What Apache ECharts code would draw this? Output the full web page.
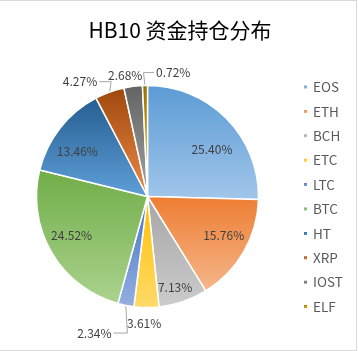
<!DOCTYPE html>
<html>
<head>
<meta charset="utf-8">
<script src="https://cdn.jsdelivr.net/npm/echarts@6/dist/echarts.min.js"></script>
<style>
  html, body { margin: 0; padding: 0; background: #fff; }
  #main {
    position: absolute; left: 0; top: 0;
    width: 356px; height: 349px;
    border-top: 1px solid #d9d9d9;
    border-right: 1px solid #d9d9d9;
    border-bottom: 1px solid #d9d9d9;
  }
</style>
</head>
<body>
<div id="main"></div>
<script>
// data
var coins = ['EOS', 'ETH', 'BCH', 'ETC', 'LTC', 'BTC', 'HT', 'XRP', 'IOST', 'ELF'];
var shares = [25.40, 15.76, 7.13, 3.61, 2.34, 24.52, 13.46, 4.27, 2.68, 0.72];

// colours: top -> bottom of each slice
var topColors = ['#5b9bd5', '#ed7d31', '#a5a5a5', '#ffc000', '#4472c4', '#70ad47', '#255e91', '#9e480e', '#636363', '#997300'];
var bottomColors = ['#a2c6ea', '#f6b68c', '#cccccc', '#ffda6a', '#95b0e0', '#abd38f', '#5f9fd8', '#ee8a45', '#a3a3a3', '#f0b400'];

// label placement (Excel "best fit" look)
var labelRadius = [0.72, 0.77, 0.86, 1.14, 1.32, 0.77, 0.75, 1.20, 1.11, 1.14];
var labelTurn = [8, -3, 2, 1, 10, 3, -5.5, -10.5, -3, 13];
var lineSide = [0, 0, 0, 0, -1, 0, 0, -1, 0, 1];

var CX = 147.5, CY = 195.5, R = 111;
var total = shares.reduce(function (a, b) { return a + b; }, 0);
var cum = [];
shares.reduce(function (acc, v, i) { cum[i] = acc; return acc + v; }, 0);

var myChart = echarts.init(document.getElementById('main'));

var pieData = coins.map(function (name, i) {
  var outside = labelRadius[i] > 1;
  return {
    name: name,
    value: shares[i],
    itemStyle: {
      color: new echarts.graphic.LinearGradient(0, 0, 0, 1, [
        { offset: 0, color: topColors[i] },
        { offset: 1, color: bottomColors[i] }
      ])
    },
    label: { position: outside ? 'outside' : 'inside' },
    labelLine: { show: lineSide[i] !== 0 }
  };
});

var option = {
  animation: false,
  title: {
    text: 'HB10 资金持仓分布',
    left: 175,
    textAlign: 'center',
    top: 14,
    textStyle: {
      fontFamily: 'Noto Sans CJK SC',
      fontSize: 21,
      fontWeight: 'normal',
      color: '#000'
    }
  },
  legend: {
    orient: 'vertical',
    left: 302,
    top: 79,
    padding: 0,
    itemWidth: 5,
    itemHeight: 5,
    itemGap: 10.4,
    icon: 'rect',
    textStyle: {
      fontFamily: 'Noto Sans CJK SC',
      fontSize: 13.5,
      lineHeight: 14,
      color: '#595959'
    },
    data: coins
  },
  series: [
    {
      name: 'HB10',
      type: 'pie',
      center: [CX, CY],
      radius: [0, R],
      startAngle: 90,
      clockwise: true,
      avoidLabelOverlap: false,
      itemStyle: { borderColor: '#fff', borderWidth: 1.5 },
      label: {
        show: true,
        formatter: function (p) { return p.value.toFixed(2) + '%'; },
        fontFamily: 'Noto Sans CJK SC',
        fontSize: 12,
        color: '#404040'
      },
      labelLine: {
        lineStyle: { color: '#a6a6a6', width: 1 }
      },
      labelLayout: function (p) {
        var i = p.dataIndex;
        var bis = (cum[i] + shares[i] / 2) / total * 2 * Math.PI;
        var a = bis + labelTurn[i] * Math.PI / 180;
        var r = R * labelRadius[i];
        var x = CX + r * Math.sin(a);
        var y = CY - r * Math.cos(a);
        var out = { x: x, y: y, align: 'center', verticalAlign: 'middle' };
        if (lineSide[i] !== 0) {
          var ex = CX + R * Math.sin(bis);
          var ey = CY - R * Math.cos(bis);
          var hw = p.labelRect.width / 2;
          out.labelLinePoints = [[ex, ey], [ex - 1.5 * lineSide[i], y], [x - lineSide[i] * (hw + 2), y]];
        }
        return out;
      },
      emphasis: { disabled: true },
      data: pieData
    }
  ]
};

myChart.setOption(option);
</script>
</body>
</html>
